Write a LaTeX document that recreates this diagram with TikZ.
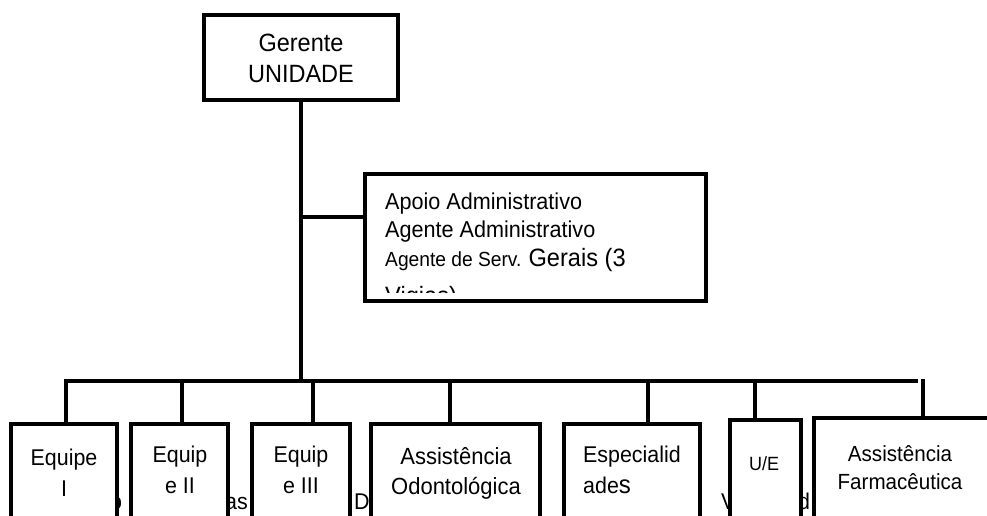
\documentclass[tikz,border=0pt]{standalone}
\usepackage{fontspec}
\setmainfont[FakeStretch=0.94]{Liberation Sans}
\newcommand\myfs[1]{\fontsize{\fpeval{#1*1.064}pt}{\fpeval{#1*1.064}pt}\selectfont}
\begin{document}
\begin{tikzpicture}[x=1pt,y=-1pt,
  box/.style={draw, fill=white, inner sep=0pt, line width=3.8pt},
  txt/.style={inner sep=0pt, anchor=base},
  ltxt/.style={inner sep=0pt, anchor=base west},
  wire/.style={line width=3.6pt}]
\useasboundingbox (0,0) rectangle (987,515);
\clip (0,0) rectangle (987,515);
\fill[white] (0,0) rectangle (987,515);

% top
\node[box, minimum width=194pt, minimum height=85pt] (ger) at (301,57.5) {};
\node[txt, font=\myfs{23.5}] (ger1) at (301,51.7) {Gerente};
\node[txt, font=\myfs{23.5}] (ger2) at (301,82) {UNIDADE};

\node[box, minimum width=341pt, minimum height=127pt] (apo) at (535.5,237.5) {};
\begin{scope}
\clip (367,176) rectangle (704,292);
\node[ltxt, font=\myfs{21.6}] (apo1) at (385,209) {Apoio Administrativo};
\node[ltxt, font=\myfs{21.6}] (apo2) at (385,237) {Agente Administrativo};
\node[ltxt, font=\myfs{19.2}] (apo3) at (385,266) {Agente de Serv. {\myfs{23.6}Gerais (3}};
\node[ltxt, font=\myfs{23.6}] (apo4) at (385,304) {Vigias)};
\end{scope}

% hidden text fragments behind the lower boxes
\node[ltxt, font=\myfs{21.4}] (f1) at (110,509) {o};
\node[ltxt, font=\myfs{21.4}] (f2) at (225,509) {as};
\node[ltxt, font=\myfs{21.4}] (f3) at (354,509) {D};
\node[ltxt, font=\myfs{21.4}] (f4) at (721,509) {V};
\node[ltxt, font=\myfs{21.4}] (f5) at (798,509) {d};

% lower boxes
\node[box, minimum width=106pt, minimum height=136pt] (b1) at (64,492) {};
\node[box, minimum width=97pt, minimum height=136pt] (b2) at (179.5,492) {};
\node[box, minimum width=98pt, minimum height=136pt] (b3) at (301,492) {};
\node[box, minimum width=169pt, minimum height=136pt] (b4) at (455.5,492) {};
\node[box, minimum width=136pt, minimum height=136pt] (b5) at (632,492) {};
\node[box, minimum width=71pt, minimum height=140pt] (b6) at (765.5,490) {};
\node[box, minimum width=196pt, minimum height=142pt] (b7) at (912,489) {};

\node[txt, font=\myfs{21.4}] (b1a) at (64,465) {Equipe};
\node[txt, font=\myfs{21.4}] (b1b) at (64,496) {I};
\node[txt, font=\myfs{21.4}] (b2a) at (180,462) {Equip};
\node[txt, font=\myfs{21.4}] (b2b) at (180,493) {e II};
\node[txt, font=\myfs{21.4}] (b3a) at (301,462) {Equip};
\node[txt, font=\myfs{21.4}] (b3b) at (301,493) {e III};
\node[txt, font=\myfs{22}] (b4a) at (456,464) {Assistência};
\node[txt, font=\myfs{22}] (b4b) at (456,494) {Odontológica};
\node[ltxt, font=\myfs{21.4}] (b5a) at (583,462) {Especialid};
\node[ltxt, font=\myfs{21.4}] (b5b) at (583,493) {ade{\myfs{24}s}};
\node[txt, font=\myfs{18}] (b6a) at (764,470) {U/E};
\node[txt, font=\myfs{20.6}] (b7a) at (900,461) {Assistência};
\node[txt, font=\myfs{20.6}] (b7b) at (900,489) {Farmacêutica};

% connectors
\coordinate (apoin) at (365,217);
\coordinate (t1) at (66,381);
\coordinate (t2) at (182,381);
\coordinate (t3) at (313,381);
\coordinate (t4) at (450,381);
\coordinate (t5) at (648,381);
\coordinate (t6) at (755,381);
\coordinate (busR) at (918,381);
\coordinate (s7) at (923,379);

\draw[wire] (ger.south) -- (ger.south |- t1);
\draw[wire] (ger.south |- apoin) -- (apoin);
\draw[wire] (t1 |- b1.north) -- (t1) -- (busR);
\draw[wire] (t2) -- (t2 |- b2.north);
\draw[wire] (t3) -- (t3 |- b3.north);
\draw[wire] (t4) -- (t4 |- b4.north);
\draw[wire] (t5) -- (t5 |- b5.north);
\draw[wire] (t6) -- (t6 |- b6.north);
\draw[wire] (s7) -- (s7 |- b7.north);
\end{tikzpicture}
\end{document}
